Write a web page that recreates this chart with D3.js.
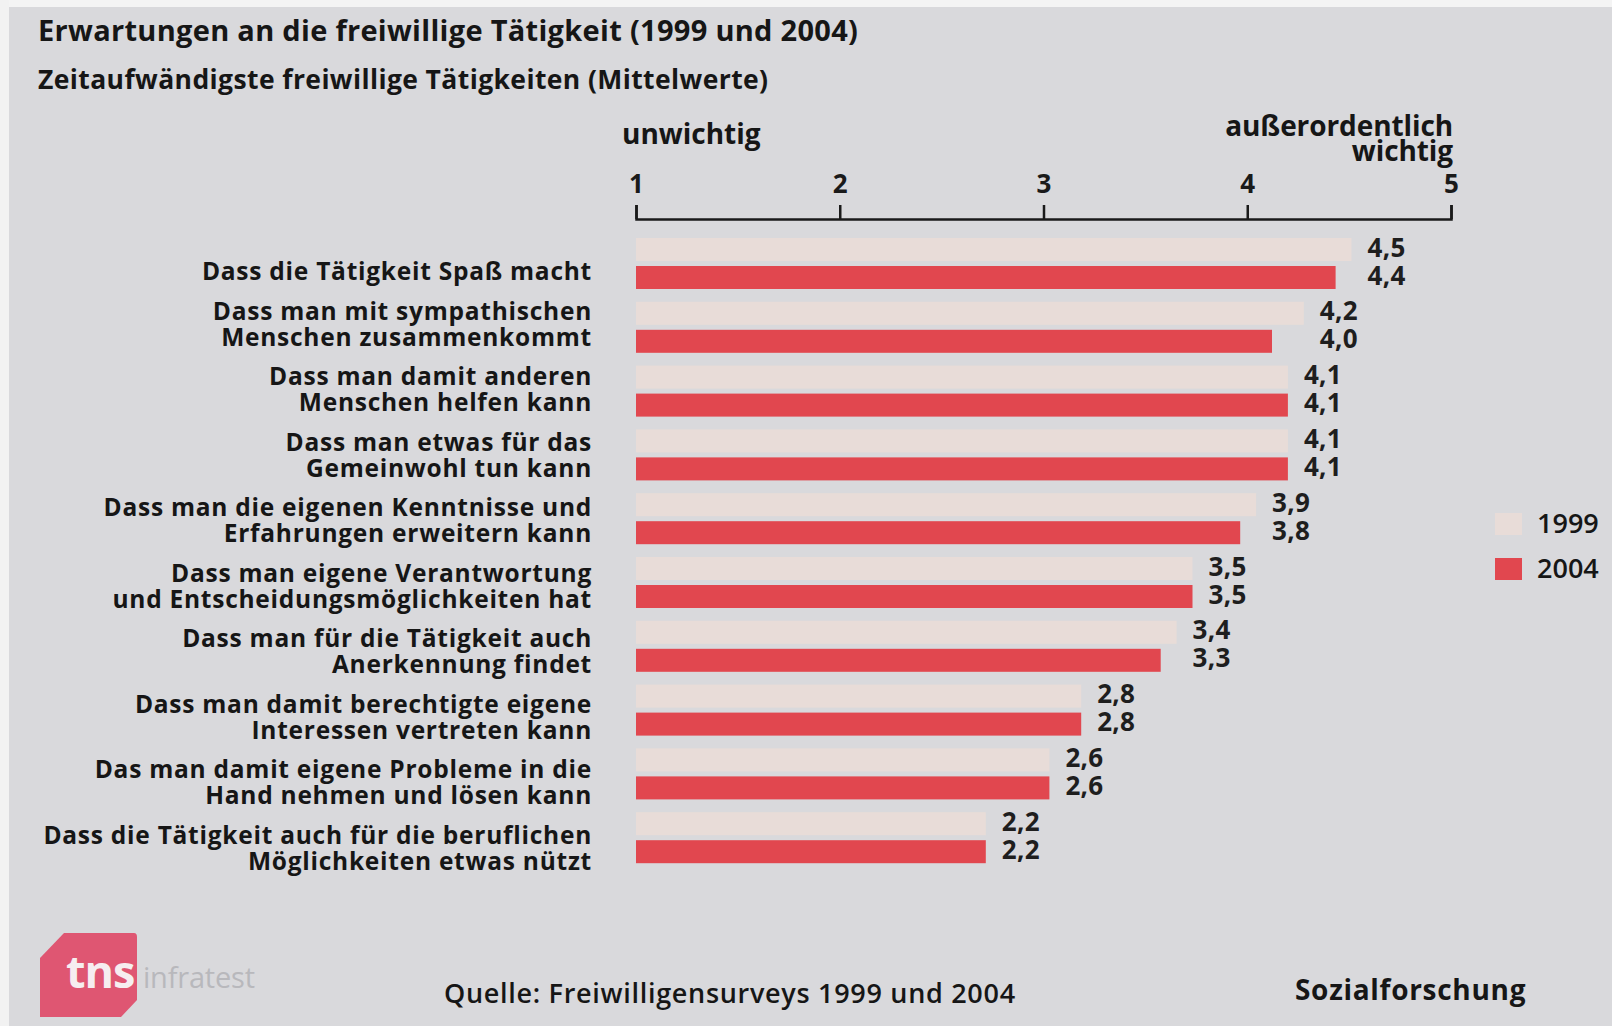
<!DOCTYPE html>
<html>
<head>
<meta charset="utf-8">
<script src="https://cdn.jsdelivr.net/npm/d3@7"></script>
<style>
  body { margin: 0; background: #d9d9dc; }
  svg { display: block; font-family: "Open Sans", sans-serif; }
</style>
</head>
<body>
<div id="chart"></div>
<script>
// data
var categories = [
  'Dass die Tätigkeit Spaß macht',
  'Dass man mit sympathischen\nMenschen zusammenkommt',
  'Dass man damit anderen\nMenschen helfen kann',
  'Dass man etwas für das\nGemeinwohl tun kann',
  'Dass man die eigenen Kenntnisse und\nErfahrungen erweitern kann',
  'Dass man eigene Verantwortung\nund Entscheidungsmöglichkeiten hat',
  'Dass man für die Tätigkeit auch\nAnerkennung findet',
  'Dass man damit berechtigte eigene\nInteressen vertreten kann',
  'Das man damit eigene Probleme in die\nHand nehmen und lösen kann',
  'Dass die Tätigkeit auch für die beruflichen\nMöglichkeiten etwas nützt'
]
var years = ['1999', '2004']
var values1999 = [4.5, 4.2, 4.1, 4.1, 3.9, 3.5, 3.4, 2.8, 2.6, 2.2]
var values2004 = [4.4, 4.0, 4.1, 4.1, 3.8, 3.5, 3.3, 2.8, 2.6, 2.2]
var axisTicks = [1, 2, 3, 4, 5]

var W = 1612, H = 1026
var colors = { '1999': '#e8dcd8', '2004': '#e1474f' }
var ink = '#161616'

var svg = d3.select('#chart')
  .append('svg')
  .attr('width', W)
  .attr('height', H)

// background + white scan border
svg.append('rect').attr('width', W).attr('height', H).attr('fill', '#d9d9dc')
svg.append('rect').attr('width', W).attr('height', 7).attr('fill', '#f4f4f4')
svg.append('rect').attr('width', 9).attr('height', H).attr('fill', '#f2f2f2')

// titles
svg.append('text')
  .attr('x', 38).attr('y', 41)
  .attr('font-size', 29).attr('font-weight', 700)
  .attr('letter-spacing', 0.3)
  .attr('fill', ink)
  .text('Erwartungen an die freiwillige Tätigkeit (1999 und 2004)')

svg.append('text')
  .attr('x', 38).attr('y', 89)
  .attr('font-size', 26.5).attr('font-weight', 700)
  .attr('letter-spacing', 0.4)
  .attr('fill', ink)
  .text('Zeitaufwändigste freiwillige Tätigkeiten (Mittelwerte)')

// scales
var x = d3.scaleLinear().domain([1, 5]).range([636, 1451])
// bars in the original are drawn from zero, not on the 1..5 axis
var barLen = d3.scaleLinear().domain([0, 5]).range([636, 1431])

var y = d3.scaleBand().domain(d3.range(categories.length)).range([238, 876])
var yInner = d3.scaleBand().domain(years).range([0, 51]).paddingInner(5 / 28)
// baseline of the last line of each category label
var yLabel = d3.scalePoint().domain(d3.range(categories.length)).range([280, 870])

// axis on top
var axisY = 219
var gAxis = svg.append('g')
  .attr('transform', 'translate(0,' + axisY + ')')
  .call(d3.axisTop(x).tickValues(axisTicks).tickFormat(d3.format('d')).tickSize(14).tickPadding(12))
gAxis.select('.domain').attr('stroke', '#1a1a1a').attr('stroke-width', 2.5)
gAxis.selectAll('.tick line').attr('stroke', '#1a1a1a').attr('stroke-width', 2.5)
gAxis.selectAll('.tick text')
  .attr('font-family', '"Open Sans", sans-serif')
  .attr('font-size', 26).attr('font-weight', 700)
  .attr('fill', '#1a1a1a')

svg.append('text')
  .attr('x', 622).attr('y', 144)
  .attr('font-size', 28).attr('font-weight', 700)
  .attr('fill', ink)
  .text('unwichtig')

svg.append('text')
  .attr('x', 1453).attr('y', 136)
  .attr('text-anchor', 'end')
  .attr('font-size', 28).attr('font-weight', 700)
  .attr('letter-spacing', -0.1)
  .attr('fill', ink)
  .text('außerordentlich')

svg.append('text')
  .attr('x', 1453).attr('y', 161)
  .attr('text-anchor', 'end')
  .attr('font-size', 28).attr('font-weight', 700)
  .attr('letter-spacing', -0.1)
  .attr('fill', ink)
  .text('wichtig')

// bars
var rows = svg.append('g').selectAll('g.row')
  .data(categories)
  .enter()
  .append('g')
  .attr('class', 'row')
  .attr('transform', function (d, i) { return 'translate(0,' + y(i) + ')' })

rows.each(function (d, i) {
  var g = d3.select(this)
  var vals = { '1999': values1999[i], '2004': values2004[i] }
  var labelX = barLen(Math.max(values1999[i], values2004[i])) + 16

  years.forEach(function (yr) {
    g.append('rect')
      .attr('x', barLen(0))
      .attr('y', yInner(yr))
      .attr('width', barLen(vals[yr]) - barLen(0))
      .attr('height', yInner.bandwidth())
      .attr('fill', colors[yr])

    g.append('text')
      .attr('x', labelX)
      .attr('y', yInner(yr) + yInner.bandwidth() / 2 + 7)
      .attr('font-size', 26).attr('font-weight', 700)
      .attr('letter-spacing', 0.3)
      .attr('fill', '#1e1e1e')
      .text(d3.format('.1f')(vals[yr]).replace('.', ','))
  })
})

// category labels
var labels = svg.append('g').selectAll('text')
  .data(categories)
  .enter()
  .append('text')
  .attr('text-anchor', 'end')
  .attr('font-size', 24.5).attr('font-weight', 700)
  .attr('letter-spacing', 0.75)
  .attr('fill', ink)

labels.each(function (d, i) {
  var lines = d.split('\n')
  d3.select(this).selectAll('tspan')
    .data(lines)
    .enter()
    .append('tspan')
    .attr('x', 592)
    .attr('y', function (l, k) { return yLabel(i) - (lines.length - 1 - k) * 26 })
    .text(function (l) { return l })
})

// legend
var legend = svg.append('g').selectAll('g')
  .data(years)
  .enter()
  .append('g')
  .attr('transform', function (d, i) { return 'translate(1495,' + (513 + i * 45) + ')' })

legend.append('rect')
  .attr('width', 27).attr('height', 22)
  .attr('fill', function (d) { return colors[d] })

legend.append('text')
  .attr('x', 42).attr('y', 20)
  .attr('font-size', 27).attr('font-weight', 600)
  .attr('fill', ink)
  .text(function (d) { return d })

// footer
svg.append('text')
  .attr('x', 444).attr('y', 1003)
  .attr('font-size', 27).attr('font-weight', 600)
  .attr('letter-spacing', 0.7)
  .attr('fill', ink)
  .text('Quelle: Freiwilligensurveys 1999 und 2004')

svg.append('text')
  .attr('x', 1295).attr('y', 1000)
  .attr('font-size', 28).attr('font-weight', 700)
  .attr('letter-spacing', 0.7)
  .attr('fill', ink)
  .text('Sozialforschung')

// tns infratest logo
svg.append('path')
  .attr('d', 'M64,933 L134,933 Q137,933 137,937 L137,1000 L121,1017 L40,1017 L40,958 Z')
  .attr('fill', '#df5672')

svg.append('text')
  .attr('x', 66).attr('y', 988)
  .attr('font-size', 45).attr('font-weight', 700)
  .attr('letter-spacing', -1)
  .attr('fill', '#f6eef0')
  .text('tns')

svg.append('text')
  .attr('x', 143).attr('y', 988)
  .attr('font-size', 29).attr('font-weight', 400)
  .attr('letter-spacing', -0.2)
  .attr('fill', '#b8b8bc')
  .text('infratest')
</script>
</body>
</html>
